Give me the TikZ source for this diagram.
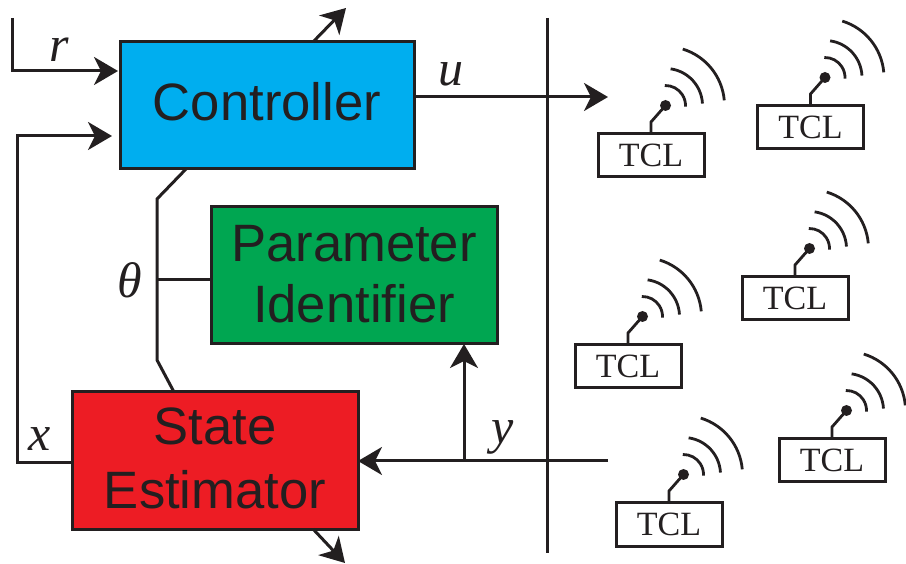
\documentclass[tikz,border=0pt]{standalone}
\usepackage{fontspec}
\setmainfont{Liberation Sans}
\newfontfamily\serifface{Liberation Serif}
\usetikzlibrary{arrows.meta}
\definecolor{inkc}{HTML}{231F20}
\definecolor{ctrlblue}{HTML}{00AEEF}
\definecolor{parmgreen}{HTML}{00A651}
\definecolor{estred}{HTML}{ED1C24}
\tikzset{
  block/.style={draw=inkc, line width=3pt, text=inkc, inner sep=0pt, outer sep=0pt, align=center,
    font=\fontsize{52.6}{64}\selectfont},
  tcl/.style={draw=inkc, line width=3pt, fill=white, text=inkc, inner sep=0pt, outer sep=0pt,
    minimum width=106pt, minimum height=43pt, font=\serifface\fontsize{34}{34}\selectfont},
  sym/.style={text=inkc, inner sep=0pt, font=\serifface\itshape\fontsize{50}{50}\selectfont},
  wire/.style={draw=inkc, line width=3pt, line join=miter},
  sig/.style={wire, -{Stealth[length=24pt, width=28pt, inset=7pt]}},
  aerial/.style={draw=inkc, line width=2.8pt}
}
\begin{document}
\begin{tikzpicture}[x=1pt,y=1pt]
  \useasboundingbox (0,0) rectangle (906,563);
  \node[block, fill=ctrlblue, minimum width=294pt, minimum height=127pt, text depth=8pt] (ctrl) at (267,457.5) {Controller};
  \node[block, fill=parmgreen, minimum width=286pt, minimum height=137pt, text depth=3pt] (parm) at (354,287.5) {Parameter\\[-3pt]Identifier};
  \node[block, fill=estred, minimum width=286pt, minimum height=137pt, text depth=5pt] (est) at (215,102.5) {State\\Estimator};

  \coordinate (rstart) at (12,545);
  \coordinate (rtip) at (118,492);
  \coordinate (xtip) at (112,427);
  \coordinate (xbend) at (17,100);
  \coordinate (utip) at (608,466);
  \coordinate (yin) at (608,102);
  \coordinate (ybranch) at (464,102);
  \coordinate (divtop) at (547,545);
  \coordinate (divbot) at (547,10);
  \coordinate (thetaup) at (157,364);
  \coordinate (thetamid) at (157,283);
  \coordinate (thetalow) at (157,203);

  % inputs and outputs of the blocks
  \draw[sig] (rstart) |- (rtip);
  \draw[sig] (est.west |- xbend) -- (xbend) |- (xtip);
  \draw[sig] (ctrl.east |- utip) -- (utip);
  \draw[sig] (yin) -- (est.east |- yin);
  \draw[sig] (ybranch) -- (ybranch |- parm.south);
  \draw[wire] (divtop) -- (divbot);
  \draw[wire] (ctrl.south -| 186,0) -- (thetaup) -- (thetalow) -- (est.north -| 174,0);
  \draw[wire] (thetamid) -- (parm.west |- thetamid);
  \draw[sig] (ctrl.north -| 313,0) -- (346,555);
  \draw[sig] (est.south -| 313,0) -- (345,0);

  \node[sym] (rlab) at (59,513) {r};
  \node[sym] (ulab) at (451,489) {u};
  \node[sym] (thetalab) at (130,283) {θ};
  \node[sym] (xlab) at (40,124) {x};
  \node[sym] (ylab) at (503,126) {y};

  % the six units with their aerials
  \foreach \name/\xx/\yy in {tcla/651/407.5, tclb/810.5/435.5, tclc/795/264.5, tcld/628/196.5, tcle/832/102.5, tclf/669/38.5}
  {
    \node[tcl] (\name) at (\xx,\yy) {TCL};
    \node[circle, fill=inkc, inner sep=0pt, minimum size=11pt] (\name-dot) at ([shift={(14.5,28.5)}]\name.north) {};
    \draw[aerial] (\name.north) -- ++(0,12) -- (\name-dot.center);
    \foreach \first/\last/\rad in {92/-3/20, 82/3/37, 73/5/59}
      \draw[aerial] (\name-dot.center) ++(\first:\rad) arc (\first:\last:\rad);
  }
\end{tikzpicture}
\end{document}
